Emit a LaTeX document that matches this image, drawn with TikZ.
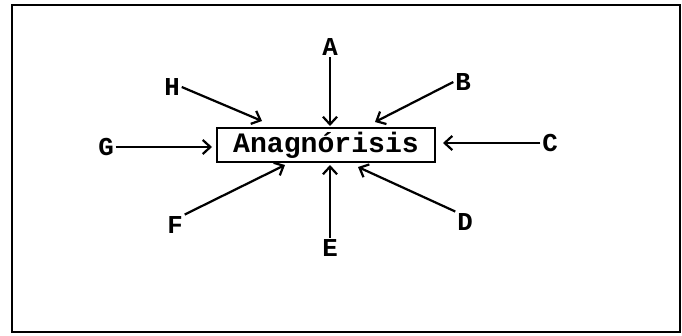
\documentclass[tikz,border=0pt]{standalone}
\usepackage{fontspec}
\setmonofont{Liberation Mono}
\usetikzlibrary{arrows.meta}

\begin{document}
\begin{tikzpicture}[
    x=0.03cm, y=-0.03cm,
    rotulo/.style={font=\fontsize{22}{24}\selectfont\ttfamily\bfseries, inner sep=1.5pt},
    caixa/.style={draw, line width=1.6pt, minimum width=218*0.03cm, minimum height=34*0.03cm, inner sep=0pt, font=\fontsize{24}{28}\selectfont\ttfamily\bfseries},
    seta/.style={-{Straight Barb[length=6.5pt,width=12pt]}, line width=1.9pt}
  ]
    \useasboundingbox (0,0) rectangle (682,335);
    \draw[line width=1.9pt] (12,5) rectangle (680,332);
    \node[caixa] (an) at (326,145) {Anagnórisis};
    \node[rotulo] (A) at (330,47) {A};
    \node[rotulo] (B) at (463,82) {B};
    \node[rotulo] (C) at (550,143) {C};
    \node[rotulo] (D) at (465,222) {D};
    \node[rotulo] (E) at (330,248) {E};
    \node[rotulo] (F) at (175,225) {F};
    \node[rotulo] (G) at (106,147) {G};
    \node[rotulo] (H) at (172,87) {H};
    \draw[seta] (A.south) -- ([shift={(4,-19)}]an.center);
    \draw[seta] (B.west) -- ([shift={(49,-23)}]an.center);
    \draw[seta] (C.west) -- ([shift={(117,-2)}]an.center);
    \draw[seta] (D.north west) -- ([shift={(32,22)}]an.center);
    \draw[seta] (E.north) -- ([shift={(4,20)}]an.center);
    \draw[seta] (F.north east) -- ([shift={(-41,20)}]an.center);
    \draw[seta] (G.east) -- ([shift={(-114,2)}]an.center);
    \draw[seta] (H.east) -- ([shift={(-64,-24)}]an.center);
  \end{tikzpicture}
\end{document}
